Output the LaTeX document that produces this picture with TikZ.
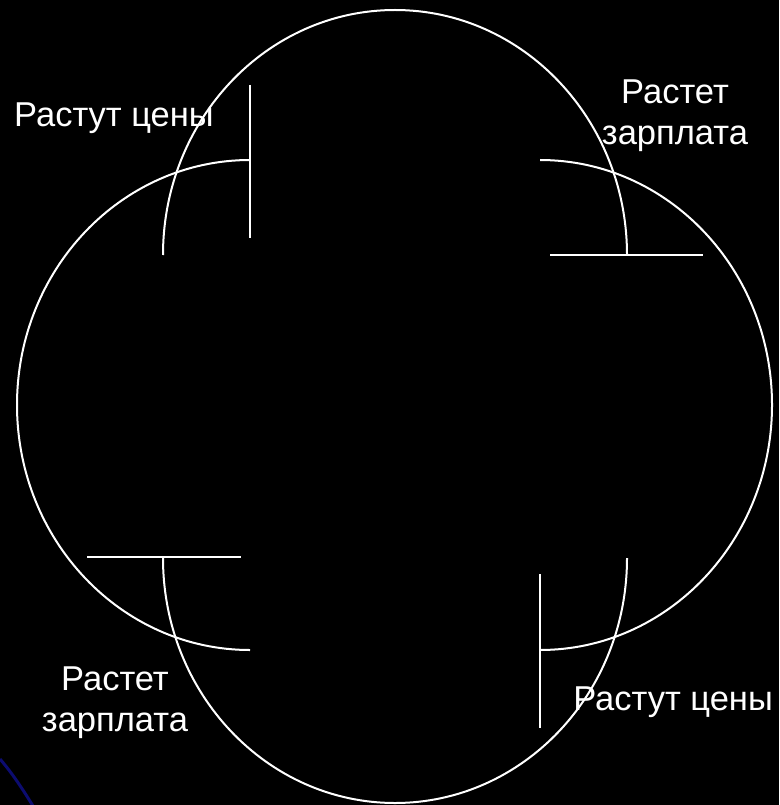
\documentclass[tikz,border=0pt]{standalone}
\usepackage{fontspec}
\setmainfont{Liberation Sans}
\definecolor{decoblue}{RGB}{12,12,112}
\begin{document}
\begin{tikzpicture}[x=1pt,y=-1pt,
  curve/.style={draw=white,line width=2pt},
  tick/.style={draw=white,line width=2pt},
  lbl/.style={text=white,inner sep=0pt,font=\fontsize{34.5}{41}\selectfont},
  lbl2/.style={lbl,align=center}]
\fill[black] (0,0) rectangle (779,805);
\useasboundingbox (0,0) rectangle (779,805);
% decorative blue curve in bottom-left corner
\draw[decoblue,line width=3pt] (0,759) .. controls (12,773) and (22,788) .. (33,806);
% tall shape (upper and lower half ellipses)
\coordinate (tul) at (163,255);
\coordinate (tll) at (163,558);
\draw[curve] (tul) arc[start angle=180,end angle=0,x radius=232pt,y radius=245pt];
\draw[curve] (tll) arc[start angle=180,end angle=360,x radius=232pt,y radius=245pt];
% wide shape (left and right half ellipses)
\coordinate (wlt) at (250,160);
\coordinate (wrt) at (540,160);
\draw[curve] (wlt) arc[start angle=90,end angle=270,x radius=233pt,y radius=245pt];
\draw[curve] (wrt) arc[start angle=90,end angle=-90,x radius=232pt,y radius=245pt];
% ticks
\coordinate (t1a) at (250,85);  \coordinate (t1b) at (250,238);
\coordinate (t2a) at (550,255); \coordinate (t2b) at (703,255);
\coordinate (t3a) at (87,557);  \coordinate (t3b) at (241,557);
\coordinate (t4a) at (540,574); \coordinate (t4b) at (540,728);
\draw[tick] (t1a) -- (t1b);
\draw[tick] (t2a) -- (t2b);
\draw[tick] (t3a) -- (t3b);
\draw[tick] (t4a) -- (t4b);
% labels
\node[lbl,anchor=base west] (ceny1) at (14,127) {Растут цены};
\node[lbl2] (zp1) at (675,116) {Растет\\зарплата};
\node[lbl2] (zp2) at (115,703) {Растет\\зарплата};
\node[lbl,anchor=base east] (ceny2) at (773,710) {Растут цены};
\end{tikzpicture}
\end{document}
